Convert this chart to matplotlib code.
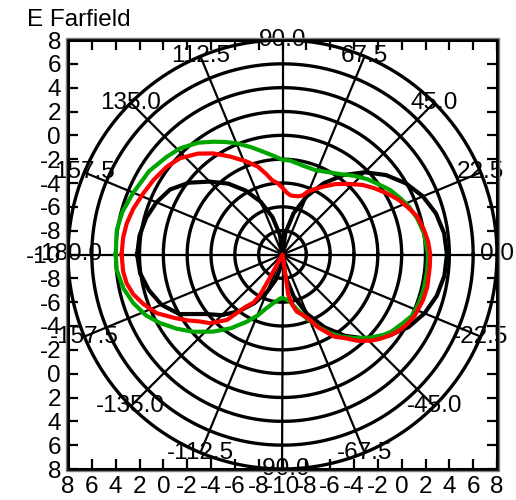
import numpy as np
import matplotlib
matplotlib.use('Agg')
import matplotlib.pyplot as plt

plt.rcParams['font.family'] = ['Liberation Sans', 'DejaVu Sans']

# ---------------- data ----------------
title = "E Farfield"
db_floor = -10          # centre of the plot
db_top = 8              # outer ring
ring_step = 2

spoke_angles = [0, 22.5, 45, 67.5, 90, 112.5, 135, 157.5,
                180, 202.5, 225, 247.5, 270, 292.5, 315, 337.5]
spoke_labels = ["0.0", "22.5", "45.0", "67.5", "90.0", "112.5", "135.0", "157.5",
                "-180.0", "-157.5", "-135.0", "-112.5", "-90.0", "-67.5", "-45.0", "-22.5"]

tick_pos = list(range(-18, 19, 2))
tick_labels = ["8", "6", "4", "2", "0", "-2", "-4", "-6", "-8", "-10",
               "-8", "-6", "-4", "-2", "0", "2", "4", "6", "8"]

# black series (angle deg, dB)
ang_black = [-180, -172.5, -165, -157.5, -150, -142.5, -135, -127.5, -120, -112.5, -105, -97.5,
             -90, -82.5, -75, -67.5, -60, -52.5, -45, -37.5, -30, -22.5, -15, -7.5,
             0, 7.5, 15, 22.5, 30, 37.5, 45, 52.5, 60, 67.5, 75, 82.5,
             90, 97.5, 105, 112.5, 120, 127.5, 135, 142.5, 150, 157.5, 165, 172.5, 180]
db_black = [2.2, 2.05, 1.6, 1.0, 0.0, -1.8, -2.8, -4.0, -5.3, -6.6, -7.8, -9.0,
            -10, -8.15, -6.35, -4.6, -2.95, -1.4, 0.0, 1.2, 2.2, 2.9, 3.4, 3.7,
            3.8, 3.68, 3.33, 2.75, 1.95, 0.95, -0.24, -1.6, -3.1, -4.72, -6.43, -8.2,
            -10, -8.35, -6.75, -5.2, -3.8, -2.5, -1.35, -0.1, 0.9, 1.45, 1.85, 2.1, 2.2]

# red series
ang_red = [-180, -174, -169.5, -165, -160.5, -155, -149.5, -145, -141, -136.5, -130.3, -125.3,
           -121, -119, -118.5, -118,
           -82, -81.8, -79, -76, -72, -68, -64, -60, -57.6, -53, -49, -44, -41, -36.5, -32.7,
           -29, -25, -18, -12.5, -5, 0, 5, 10, 15.7, 20, 25, 30, 35.7, 41, 47, 53, 58.5, 63,
           68, 71, 75, 82, 86, 90, 94, 98, 101.5, 105.6, 111, 118, 124.4, 130, 136.8, 142.8,
           150, 156.3, 163, 168.7, 174, 180]
db_red = [3.5, 3.45, 3.3, 2.95, 2.4, 1.65, 0.5, -0.35, -1.07, -1.62, -2.8, -4.6,
          -5.3, -6.1, -8.0, -10,
          -10, -6.6, -5.7, -5.06, -4.7, -4.2, -3.2, -2.4, -1.83, -1.2, -0.4, 0.4, 0.8, 1.35, 1.72,
          2.0, 2.22, 2.4, 2.45, 2.4, 2.4, 2.27, 2.05, 1.75, 1.3, 0.8, 0.2, -0.48, -1.1, -1.9, -2.6, -3.3, -3.8,
          -4.3, -4.75, -4.95, -5.0, -4.8, -4.4, -4.0, -3.7, -3.1, -2.35, -1.65, -0.7, 0.28, 1.05, 1.8, 2.19,
          2.5, 2.76, 3.1, 3.33, 3.45, 3.5]

# green series
ang_green = [-180, -174.7, -168, -162, -156, -150.8, -145, -139.2, -132, -125, -118, -112,
             -106.5, -100, -93, -90, -86, -81, -75, -69, -63.5, -58.8, -54.4, -48.5, -43,
             -38.6, -35.4, -30, -25, -19, -14.2, -7, 0, 8.6, 15, 20.7, 25, 30.7, 35, 41.6,
             48, 54.1, 61, 68.5, 77, 85, 90, 95, 100.6, 106, 112.4, 117, 121.5, 127, 134,
             140, 148, 157.6, 165, 171.6, 180]
db_green = [4.0, 3.97, 3.65, 3.17, 2.55, 1.78, 0.85, -0.08, -1.29, -2.45, -3.61, -4.5,
            -5.32, -5.9, -6.3, -6.35, -6.25, -6.0, -5.2, -4.2, -3.2, -2.3, -1.52, -0.61, 0.2,
            0.82, 1.19, 1.6, 2.05, 2.15, 2.2, 2.22, 2.22, 2.0, 1.7, 1.35, 1.0, 0.55, 0.1, -0.48,
            -1.1, -1.68, -2.1, -2.4, -2.35, -2.1, -2.05, -1.7, -1.23, -0.65, 0.09, 0.6, 1.1, 1.75, 2.38,
            2.72, 3.2, 3.56, 3.9, 4.06, 4.0]

# ---------------- drawing ----------------
W, H = 516, 500
fig = plt.figure(figsize=(W / 100, H / 100), dpi=100)
ax = fig.add_axes([68 / W, 31 / H, 429 / W, 429 / H])

R = db_top - db_floor
ax.set_xlim(-R, R)
ax.set_ylim(-R, R)

t = np.linspace(0, 2 * np.pi, 721)
for db in range(db_floor + ring_step, db_top + 1, ring_step):
    r = db - db_floor
    ax.plot(r * np.cos(t), r * np.sin(t), color='black', lw=2.4, zorder=2)

for a in spoke_angles:
    ar = np.deg2rad(a)
    ax.plot([0, R * np.cos(ar)], [0, R * np.sin(ar)], color='black', lw=1.6, zorder=2)

for a, lab in zip(spoke_angles, spoke_labels):
    ar = np.deg2rad(a)
    ax.text(R * np.cos(ar), R * np.sin(ar), lab, ha='center', va='center',
            fontsize=17.5, color='black', zorder=5, clip_on=False)


def to_xy(angs, dbs):
    a = np.deg2rad(np.asarray(angs, dtype=float))
    r = np.clip(np.asarray(dbs, dtype=float), db_floor, db_top) - db_floor
    return r * np.cos(a), r * np.sin(a)


for angs, dbs, col in [(ang_black, db_black, 'black'),
                       (ang_green, db_green, '#00a600'),
                       (ang_red, db_red, '#ff0000')]:
    x, y = to_xy(angs, dbs)
    ax.plot(x, y, color=col, lw=3.0, zorder=3, solid_joinstyle='round')

ax.set_xticks(tick_pos)
ax.set_xticklabels(tick_labels)
ax.set_yticks(tick_pos)
ax.set_yticklabels(tick_labels)
ax.tick_params(direction='in', length=7, width=1.6, top=True, right=True,
               labelsize=17.5, pad=5)
for sp in ax.spines.values():
    sp.set_linewidth(2.2)
    sp.set_color('black')

# thin grey outer frame line (double border look)
fig.patches.append(plt.Rectangle((66 / W, 29 / H), 433 / W, 433 / H, transform=fig.transFigure,
                                 fill=False, edgecolor='#808080', lw=1.0, zorder=1))

fig.text(27 / W, 1 - 20 / H, title, ha='left', va='center', fontsize=17.5)

fig.savefig('out.png', dpi=100)
